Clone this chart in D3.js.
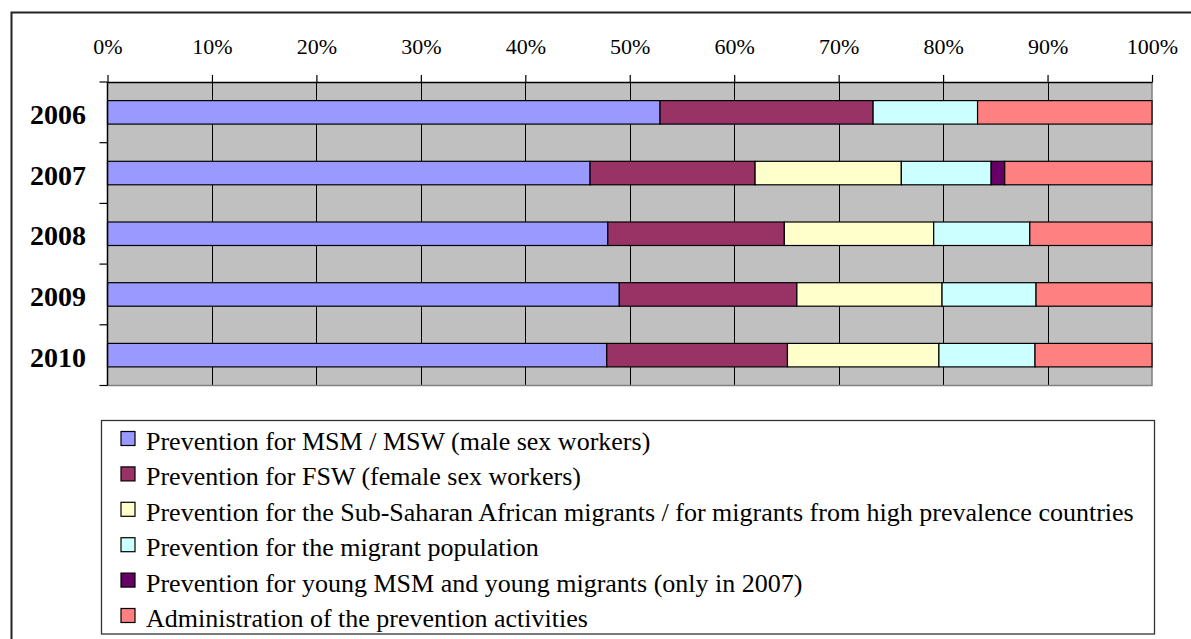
<!DOCTYPE html>
<html>
<head>
<meta charset="utf-8">
<script src="https://cdn.jsdelivr.net/npm/d3@7"></script>
<style>
  html, body { margin: 0; padding: 0; background: #fff; }
  svg { display: block; }
  text { font-family: "Liberation Serif", "Times New Roman", serif; fill: #000; }
</style>
</head>
<body>
<svg id="chart" width="1191" height="639"></svg>
<script>
// ---- data (percent of annual prevention budget) ----
const years = ["2006", "2007", "2008", "2009", "2010"];
const seriesNames = [
  "Prevention for MSM / MSW (male sex workers)",
  "Prevention for FSW (female sex workers)",
  "Prevention for the Sub-Saharan African migrants / for migrants from high prevalence countries",
  "Prevention for the migrant population",
  "Prevention for young MSM and young migrants (only in 2007)",
  "Administration of the prevention activities"
];
const msm      = [52.9, 46.2, 47.9, 49.0, 47.8];
const fsw      = [20.4, 15.8, 16.9, 17.0, 17.3];
const subSahar = [0.0, 14.0, 14.3, 13.9, 14.5];
const migrants = [10.0, 8.6, 9.2, 9.0, 9.2];
const youngMsm = [0.0, 1.3, 0.0, 0.0, 0.0];
const admin    = [16.7, 14.1, 11.7, 11.1, 11.2];
const tickLabels = ["0%","10%","20%","30%","40%","50%","60%","70%","80%","90%","100%"];
const colors = ["#9999FF", "#993366", "#FFFFCC", "#CCFFFF", "#660066", "#FF8080"];

const seriesValues = [msm, fsw, subSahar, migrants, youngMsm, admin];
const keys = seriesNames;
const rows = years.map((yr, i) => {
  const r = { year: yr };
  keys.forEach((k, j) => { r[k] = seriesValues[j][i]; });
  return r;
});
const stacked = d3.stack().keys(keys).offset(d3.stackOffsetExpand)(rows);

const svg = d3.select("#chart");

// outer frame
svg.append("rect")
  .attr("x", 11.5).attr("y", 12.5)
  .attr("width", 1200).attr("height", 700)
  .attr("fill", "#fff").attr("stroke", "#222").attr("stroke-width", 2);

const x = d3.scaleLinear().domain([0, 1]).range([107.5, 1152]);
const y = d3.scaleBand().domain(years).range([82, 385.5]).paddingInner(0.613).paddingOuter(0.3065);

const [x0, x1] = x.range();
const [y0, y1] = y.range();

// plot background
svg.append("rect")
  .attr("x", x0).attr("y", y0)
  .attr("width", x1 - x0).attr("height", y1 - y0)
  .attr("fill", "#C0C0C0");

// vertical gridlines
const tickVals = d3.range(0, 11).map(d => d / 10);
svg.append("g").selectAll("line")
  .data(tickVals.slice(1, -1))
  .join("line")
  .attr("x1", d => Math.round(x(d)) + 0.5).attr("x2", d => Math.round(x(d)) + 0.5)
  .attr("y1", y0).attr("y2", y1)
  .attr("stroke", "#000").attr("stroke-width", 1);

// right and bottom plot border
svg.append("path")
  .attr("d", `M${x1},${y0}V${y1}H${x0}`)
  .attr("fill", "none").attr("stroke", "#808080").attr("stroke-width", 1.5);

// bars
svg.append("g").selectAll("g")
  .data(stacked)
  .join("g")
  .attr("fill", (d, i) => colors[i])
  .selectAll("rect")
  .data(d => d.filter(s => s[1] - s[0] > 0))
  .join("rect")
  .attr("x", d => x(d[0]))
  .attr("y", d => y(d.data.year))
  .attr("width", d => x(d[1]) - x(d[0]))
  .attr("height", y.bandwidth())
  .attr("stroke", "#000").attr("stroke-width", 1.2);

// top axis
const xAxis = d3.axisTop(x)
  .tickValues(tickVals)
  .tickFormat((d, i) => tickLabels[i])
  .tickSize(7)
  .tickSizeOuter(0)
  .tickPadding(21);
const gx = svg.append("g").attr("transform", `translate(0,${y0})`).call(xAxis);
gx.select(".domain").attr("stroke", "#000").attr("stroke-width", 1.5);
gx.selectAll(".tick line").attr("stroke", "#000").attr("stroke-width", 1.2);
gx.selectAll(".tick text")
  .attr("font-family", "Liberation Serif, Times New Roman, serif")
  .attr("font-size", 22).attr("fill", "#000");

// left axis: line + ticks between categories
svg.append("line")
  .attr("x1", x0).attr("x2", x0).attr("y1", y0).attr("y2", y1)
  .attr("stroke", "#000").attr("stroke-width", 1.5);
const boundaries = years.map(yr => y(yr) - y.step() * y.paddingOuter()).concat([y1]);
svg.append("g").selectAll("line")
  .data(boundaries)
  .join("line")
  .attr("x1", x0 - 8).attr("x2", x0)
  .attr("y1", d => d).attr("y2", d => d)
  .attr("stroke", "#000").attr("stroke-width", 1.2);
svg.append("g").selectAll("text")
  .data(years)
  .join("text")
  .attr("x", 86)
  .attr("y", d => y(d) + y.bandwidth() / 2 + 11.5)
  .attr("text-anchor", "end")
  .attr("font-size", 28).attr("font-weight", "bold")
  .text(d => d);

// legend
const legX = 101.5, legY = 420.5, legW = 1053, legH = 213.5;
svg.append("rect")
  .attr("x", legX).attr("y", legY).attr("width", legW).attr("height", legH)
  .attr("fill", "#fff").attr("stroke", "#333").attr("stroke-width", 1.3);
const ly = d3.scalePoint().domain(seriesNames).range([438.5, 615.5]);
const leg = svg.append("g").selectAll("g")
  .data(seriesNames)
  .join("g")
  .attr("transform", d => `translate(0,${ly(d)})`);
leg.append("rect")
  .attr("x", 121).attr("y", -7).attr("width", 14).attr("height", 14)
  .attr("fill", (d, i) => colors[i]).attr("stroke", "#000").attr("stroke-width", 1.2);
leg.append("text")
  .attr("x", 146).attr("y", 11.5)
  .attr("font-size", 26)
  .text(d => d);
</script>
</body>
</html>
